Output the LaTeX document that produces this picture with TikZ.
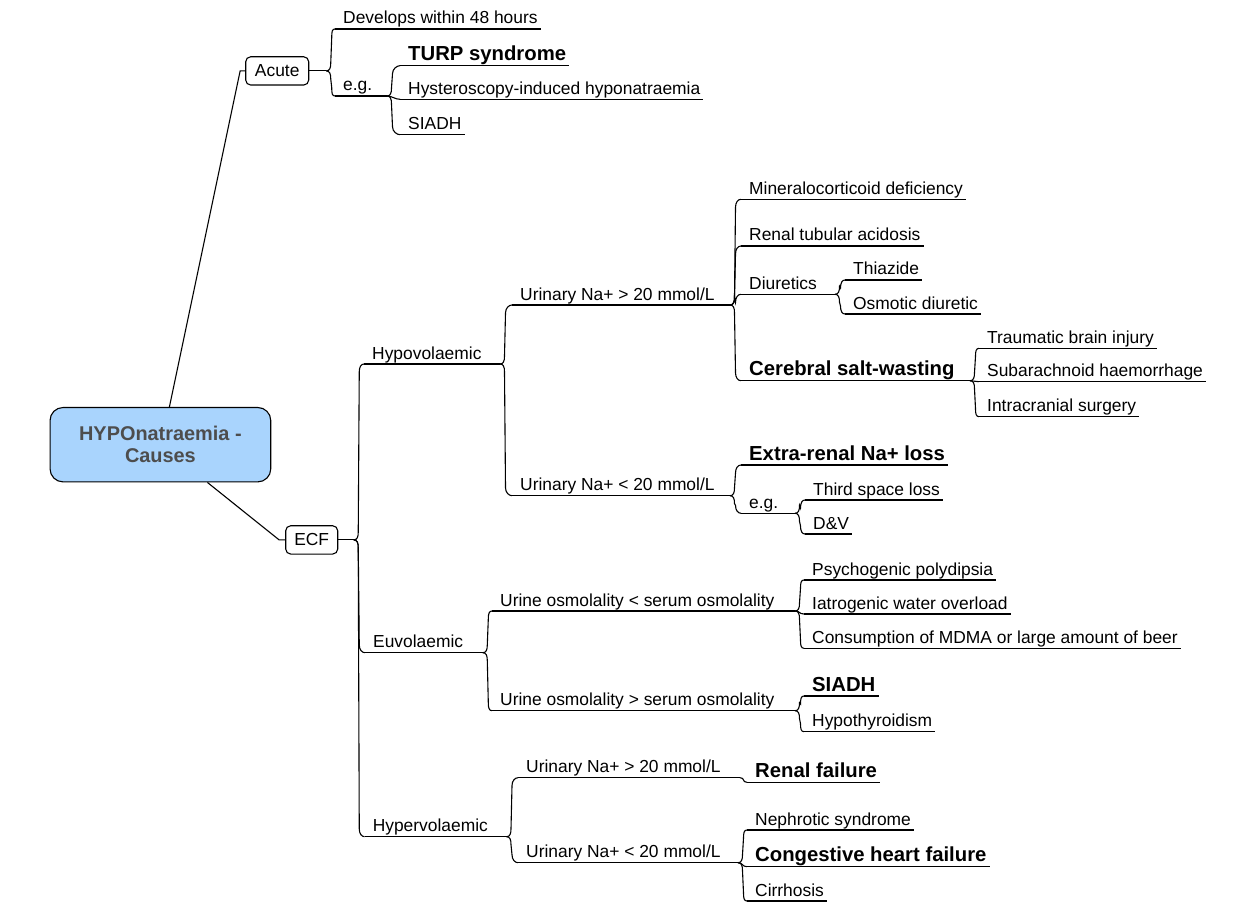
\documentclass[tikz,border=0pt]{standalone}
\usepackage{fontspec}
\setmainfont{Liberation Sans}
\usetikzlibrary{calc}
\definecolor{rootfill}{HTML}{A9D4FD}
\definecolor{roottext}{HTML}{4D4D4D}
\tikzset{
  ln/.style={line width=1.1pt, black},
  rg/.style={font=\fontsize{17.4}{20}\selectfont, inner sep=0pt},
  bd/.style={font=\fontsize{20.3}{24}\selectfont\bfseries, inner sep=0pt},
  boxnode/.style={draw, line width=1.1pt, rounded corners=5pt, fill=white, minimum height=28.3pt, inner sep=0pt, font=\fontsize{17.4}{20}\selectfont},
  rootbox/.style={draw, line width=1.1pt, rounded corners=13pt, fill=rootfill, minimum width=220.7pt, minimum height=74.4pt, inner sep=0pt, align=center, text=roottext, font=\fontsize{19.9}{22}\selectfont\bfseries}
}
% name, style, text x, underline y, min underline end x, text
\newcommand\tn[6]{%
  \node[#2, anchor=base west] (#1) at (#3,#4-5) {#6};
  \path let \p1=(#1.base east) in coordinate (#1-r) at ({max(\x1+3,#5)},#4);
  \coordinate (#1-l) at (#3-8,#4);
  \draw[ln] (#1-l) -- (#1-r);}
% bracket connector from a junction to a child's underline start
\newcommand\br[2]{\draw[ln] let \p1=(#1), \p2=(#2), \n1={sign(\y2-\y1)*3}, \n2={sign(\y2-\y1)*8} in
  (\p1) .. controls ({\x1+3.5pt},{\y1}) and ({\x1+4.5pt},{\y1+(\n1)}) .. ({\x1+4.5pt},{\y1+(\n2)})
  -- ({\x1+5.5pt},{\y2-(\n2)}) .. controls ({\x1+5.5pt},{\y2-(\n1)}) and ({\x2-3pt},{\y2}) .. (\p2);}
\newcommand\bs[2]{\draw[ln] (#1) .. controls +(5,0) and +(-5,0) .. (#2);}
\begin{document}
\begin{tikzpicture}[x=1pt,y=-1pt]
\useasboundingbox (0,0) rectangle (1248,912);
% main nodes
\node[rootbox] (root) at (160.4,444.7) {HYPOnatraemia -\\Causes};
\node[boxnode, minimum width=63pt] (acute) at (277.2,70.9) {Acute};
\node[boxnode, minimum width=52pt] (ecf) at (311.7,539.9) {ECF};
\draw[ln] ([xshift=9pt]root.north) -- ([xshift=-5pt]acute.west) -- (acute.west);
\draw[ln] ([xshift=47pt]root.south) -- ([xshift=-6pt]ecf.west) -- (ecf.west);
\coordinate (jA) at ([xshift=17pt]acute.east);
\draw[ln] (acute.east) -- (jA);
\coordinate (jE) at ([xshift=15.5pt]ecf.east);
\draw[ln] (ecf.east) -- (jE);
% Acute branch
\tn{dev}{rg}{343}{29}{0}{Develops within 48 hours}
\tn{egA}{rg}{343}{96}{387}{e.g.}
\tn{turp}{bd}{408}{65.7}{0}{TURP syndrome}
\tn{hyst}{rg}{408}{99.3}{0}{Hysteroscopy-induced hyponatraemia}
\tn{siadhA}{rg}{408}{134.7}{0}{SIADH}
\br{jA}{dev-l}\br{jA}{egA-l}
\br{egA-r}{turp-l}\bs{egA-r}{hyst-l}\br{egA-r}{siadhA-l}
% ECF children
\tn{hypov}{rg}{372}{364}{500}{Hypovolaemic}
\tn{euvol}{rg}{373}{652.7}{482.8}{Euvolaemic}
\tn{hyperv}{rg}{372.6}{836.7}{506.5}{Hypervolaemic}
\br{jE}{hypov-l}\br{jE}{euvol-l}\br{jE}{hyperv-l}
% Hypovolaemic
\tn{urg}{rg}{520}{305}{730}{Urinary Na+ > 20 mmol/L}
\tn{url}{rg}{520}{495.7}{730}{Urinary Na+ < 20 mmol/L}
\br{hypov-r}{urg-l}\br{hypov-r}{url-l}
\tn{miner}{rg}{749}{199.3}{0}{Mineralocorticoid deficiency}
\tn{rta}{rg}{749}{246}{0}{Renal tubular acidosis}
\tn{diur}{rg}{749}{294.3}{835}{Diuretics}
\tn{csw}{bd}{749}{380.7}{970}{Cerebral salt-wasting}
\br{urg-r}{miner-l}\br{urg-r}{rta-l}\br{urg-r}{diur-l}\br{urg-r}{csw-l}
\tn{thia}{rg}{853}{280}{0}{Thiazide}
\tn{osmo}{rg}{853}{314}{0}{Osmotic diuretic}
\br{diur-r}{thia-l}\br{diur-r}{osmo-l}
\tn{tbi}{rg}{987}{348.3}{0}{Traumatic brain injury}
\tn{sah}{rg}{987}{381.7}{0}{Subarachnoid haemorrhage}
\tn{ics}{rg}{987}{416.7}{0}{Intracranial surgery}
\br{csw-r}{tbi-l}\bs{csw-r}{sah-l}\br{csw-r}{ics-l}
\tn{extra}{bd}{749}{465}{0}{Extra-renal Na+ loss}
\tn{egB}{rg}{749}{513.3}{795}{e.g.}
\br{url-r}{extra-l}\br{url-r}{egB-l}
\tn{third}{rg}{813}{500}{0}{Third space loss}
\tn{dv}{rg}{813}{534}{0}{D\&V}
\br{egB-r}{third-l}\br{egB-r}{dv-l}
% Euvolaemic
\tn{uol}{rg}{500}{611}{795}{Urine osmolality < serum osmolality}
\tn{uog}{rg}{500}{710.7}{795}{Urine osmolality > serum osmolality}
\br{euvol-r}{uol-l}\br{euvol-r}{uog-l}
\tn{psy}{rg}{812}{580}{0}{Psychogenic polydipsia}
\tn{iat}{rg}{812}{614}{0}{Iatrogenic water overload}
\tn{cons}{rg}{812}{648.3}{0}{Consumption of MDMA or large amount of beer}
\br{uol-r}{psy-l}\bs{uol-r}{iat-l}\br{uol-r}{cons-l}
\tn{siadhB}{bd}{812}{696}{0}{SIADH}
\tn{hypot}{rg}{812}{731.7}{0}{Hypothyroidism}
\br{uog-r}{siadhB-l}\br{uog-r}{hypot-l}
% Hypervolaemic
\tn{urgB}{rg}{526}{777.7}{740}{Urinary Na+ > 20 mmol/L}
\tn{urlB}{rg}{526}{862.7}{738}{Urinary Na+ < 20 mmol/L}
\br{hyperv-r}{urgB-l}\br{hyperv-r}{urlB-l}
\tn{renal}{bd}{755}{782.3}{0}{Renal failure}
\bs{urgB-r}{renal-l}
\tn{neph}{rg}{755}{830}{0}{Nephrotic syndrome}
\tn{chf}{bd}{755}{866.7}{0}{Congestive heart failure}
\tn{cirr}{rg}{755}{901}{0}{Cirrhosis}
\br{urlB-r}{neph-l}\bs{urlB-r}{chf-l}\br{urlB-r}{cirr-l}
\end{tikzpicture}
\end{document}
